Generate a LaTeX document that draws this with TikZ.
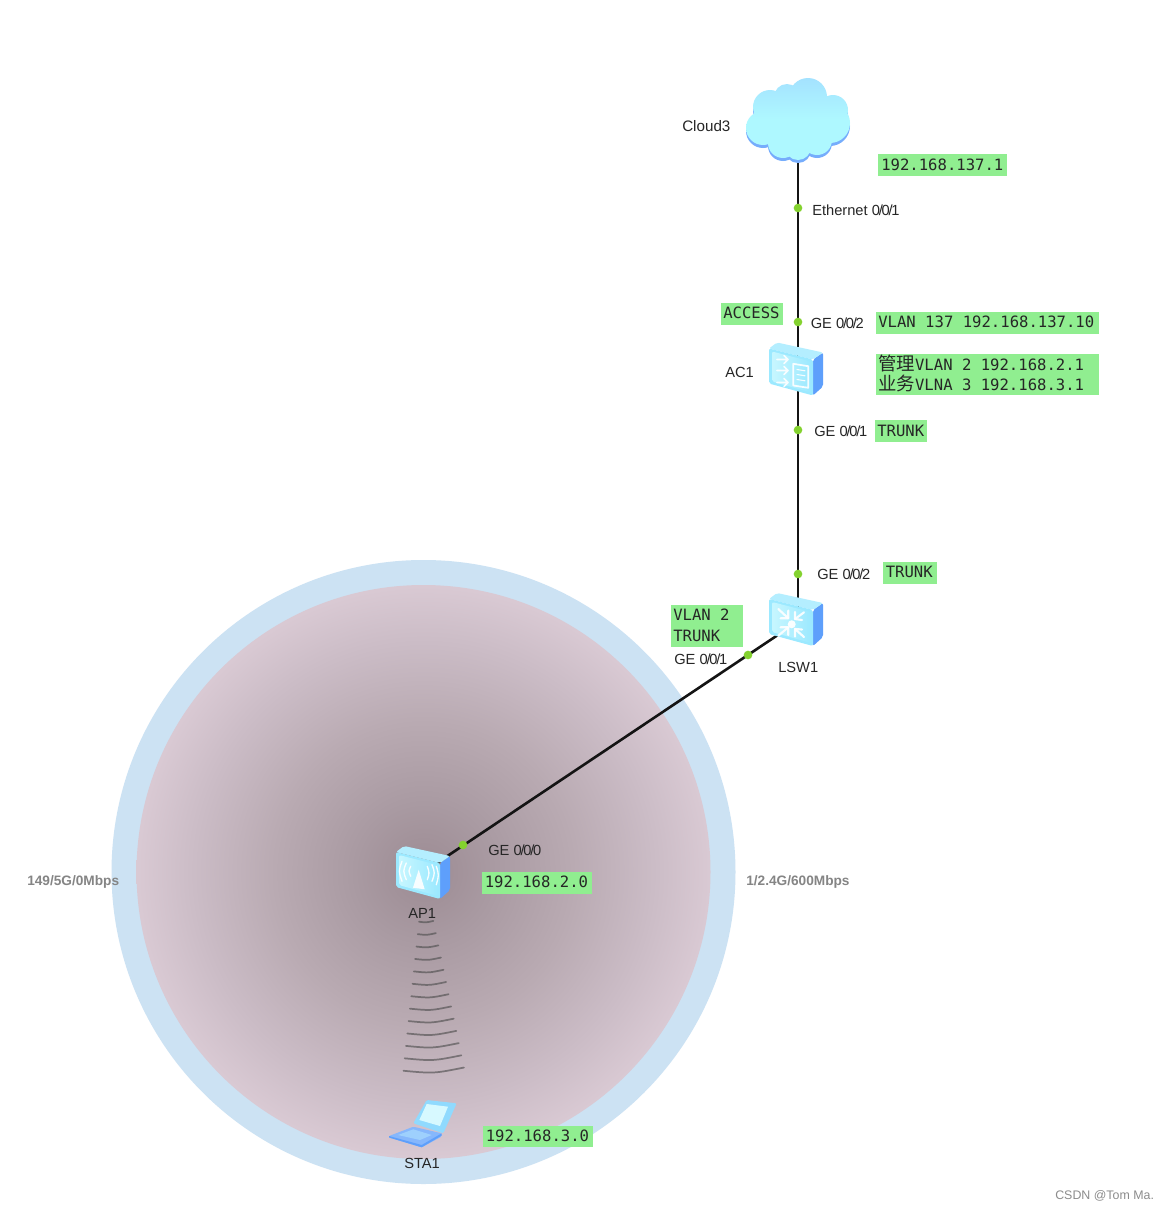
\documentclass[tikz,border=0pt]{standalone}
\usepackage{fontspec}
\setmainfont{Liberation Sans}
\setmonofont{DejaVu Sans Mono}
\newfontfamily\cjkf{Noto Sans CJK SC}
\definecolor{c0}{HTML}{9C8B93}
\definecolor{c1}{HTML}{A99AA2}
\definecolor{c2}{HTML}{B9AAB2}
\definecolor{c3}{HTML}{CBBCC6}
\definecolor{c4}{HTML}{DCCCD6}
\pgfdeclareradialshading{wifibg}{\pgfpoint{0bp}{0bp}}{
  color(0bp)=(c0); color(6bp)=(c1); color(13bp)=(c2); color(20bp)=(c3); color(26bp)=(c4); color(60bp)=(c4)}
\definecolor{ringblue}{HTML}{CCE2F3}
\definecolor{tagg}{HTML}{90EE90}
\definecolor{portg}{HTML}{84D22F}
\definecolor{icnA}{HTML}{9CE9FF}
\definecolor{icnB}{HTML}{BDF5FF}
\definecolor{icnT}{HTML}{B4EEFF}
\definecolor{icnS}{HTML}{5E9FFB}
\definecolor{cloudA}{HTML}{A4E2FF}
\definecolor{cloudB}{HTML}{AEF8FF}
\tikzset{
  lbl/.style={anchor=west,inner sep=0pt,font=\fontsize{11}{13}\selectfont,text=black!85},
  rate/.style={anchor=west,inner sep=0pt,font=\fontsize{10.25}{12}\selectfont\bfseries,text=black!48},
  wmk/.style={anchor=west,inner sep=0pt,font=\fontsize{9.3}{12}\selectfont,text=black!45},
  tagbox/.style={fill=tagg,draw=none,inner sep=0pt},
  tagtxt/.style={anchor=west,inner sep=0pt,align=left,font=\ttfamily\fontsize{11.7}{15}\selectfont,text=black!85},
  devbox/.style={inner sep=0pt,minimum size=30pt,draw=none},
  link/.style={draw=black!92,line width=1.95pt},
  portdot/.style={circle,fill=portg,draw=none,inner sep=0pt,minimum size=6.5pt},
  glyph/.style={draw=white,line width=1.3pt,line cap=round,line join=round,opacity=.9},
  wave/.style={draw=black!70,line width=1.3pt,line cap=round,opacity=.62}
}
\newcommand{\tsl}{\kern-.9pt/\kern-.9pt}
\newcommand{\cubebody}{
  \fill[icnS,rounded corners=1.5] (44,11) -- (54,4) -- (54,38) -- (44,47) -- cycle;
  \fill[icnT,rounded corners=1.5] (0,0) -- (8,-6) -- (54,4) -- (44,11) -- cycle;
  \fill[icnA,rounded corners=1.5] (0,0) -- (44,11) -- (44,47) -- (0,35) -- cycle;
  \shade[left color=icnB!85!white,right color=icnA,rounded corners=1.5] (3,3) -- (42,13) -- (42,44) -- (3,33) -- cycle;
}
\begin{document}
\begin{tikzpicture}[x=0.75pt,y=-0.75pt]
\useasboundingbox (0,0) rectangle (1168,1210);
\fill[white] (0,0) rectangle (1168,1210);
% radio coverage
\fill[ringblue] (423.5,872) circle (312);
\shade[shading=wifibg] (423.5,872) circle (287);
% device anchors
\node[devbox] (cloud) at (798,118) {};
\node[devbox] (ac) at (798,369) {};
\node[devbox] (lsw) at (798,621.5) {};
\node[devbox] (ap) at (423.5,872) {};
\node[devbox] (sta) at (423,1122) {};
% links
\draw[link] (cloud.center) -- (ac.center);
\draw[link] (ac.center) -- (lsw.center);
\draw[link] (lsw.center) -- (ap.center);
% wireless waves
\foreach \i in {0,...,12}{
  \pgfmathsetmacro{\yy}{921.7+\i*12.42}
  \pgfmathsetmacro{\xl}{419-\i*1.3}
  \pgfmathsetmacro{\xr}{433.3+\i*2.55}
  \pgfmathsetmacro{\xm}{(\xl+\xr)/2}
  \pgfmathsetmacro{\yc}{\yy+0.9+\i*.16}
  \pgfmathsetmacro{\ye}{\yy-0.8-\i*.2}
  \draw[wave] (\xl,\yy) .. controls (\xm,\yc) .. (\xr,\ye);
}
% cloud
\path[fill=icnS!85!white,shift={(0,3)}]
  (770,107) circle (17) (787,97) circle (13) (808,97) circle (19) (833,110) circle (15)
  (830,123) circle (20) (763,128) circle (17) (783,143) circle (15) (798,147) circle (13)
  (817,140) circle (15) (797,120) circle (30);
\shade[top color=cloudA,bottom color=cloudB,middle color=cloudB]
  (770,107) circle (17) (787,97) circle (13) (808,97) circle (19) (833,110) circle (15)
  (830,123) circle (20) (763,128) circle (17) (783,143) circle (15) (798,147) circle (13)
  (817,140) circle (15) (797,120) circle (30);
% AC1 icon
\begin{scope}[shift={(769,348.5)}]
  \cubebody
  \foreach \ya/\yb/\yc in {11/7/15,22/18/26,34/30/38}{
    \draw[glyph] (8,\ya) -- (19,\ya) (15,\yb) -- (19,\ya) -- (15,\yc);
  }
  \draw[glyph] (24.3,15.3) -- (39.3,17.7) -- (39.3,39.3) -- (24.3,37) -- cycle;
  \draw[glyph,line width=.8pt] (28,21) -- (36,22.3) (28,26) -- (36,27.3) (28,31) -- (36,32.3);
\end{scope}
% LSW1 icon
\begin{scope}[shift={(769,599)}]
  \cubebody
  \fill[white,opacity=.95] (22.7,25.3) circle (4);
  \draw[glyph,line width=1.6pt] (9.3,10) -- (19.3,19.3) (35,13.3) -- (26,20) (9.3,36.7) -- (19.3,28.3) (35,38) -- (26,30);
  \draw[glyph,line width=1.6pt] (11.5,19.3) -- (19.3,19.3) -- (19.3,11.5)
     (33,21) -- (26,20) -- (26,13) (11.5,28.3) -- (19.3,28.3) -- (19.3,36)
     (33,30.5) -- (26,30) -- (26,37.5);
\end{scope}
% AP1 icon
\begin{scope}[shift={(396,852)}]
  \cubebody
  \fill[white,opacity=.9] (22.7,17.7) -- (28.7,37.3) -- (17,35.7) -- cycle;
  \draw[glyph,line width=1pt] (14.7,14.3) .. controls (12.5,19) .. (14.7,24.3)
     (10.3,11) .. controls (7,19) .. (10.3,27.7)
     (6,9.3) .. controls (2.5,19) .. (6,29.3)
     (31.3,14.3) .. controls (33.5,21) .. (31.3,27.7)
     (36,12.7) .. controls (39,21) .. (36,29.3)
     (40.3,14.3) .. controls (43,23) .. (40.3,32.7);
\end{scope}
% STA1 icon
\fill[icnA!80!icnS,rounded corners=1] (426.7,1100) -- (456.7,1103.3) -- (443.3,1133.3) -- (413.3,1123.3) -- cycle;
\fill[icnB!60!white] (426.7,1104) -- (448,1106.7) -- (440,1126) -- (419.3,1120) -- cycle;
\fill[icnS!75!white,rounded corners=1] (389,1136) -- (413.3,1126.7) -- (441.7,1133.3) -- (441.7,1136.5) -- (421.7,1147.3) -- (389,1137.5) -- cycle;
\fill[icnS!60!white!70!icnA] (398,1135) -- (413.3,1129.3) -- (431.7,1135) -- (420,1140) -- cycle;
\fill[icnS] (389,1136) -- (421.7,1145) -- (441.7,1133.3) -- (441.7,1135.5) -- (421.7,1147.3) -- (389,1137.5) -- cycle;
% port dots
\node[portdot] (p1) at (798,208) {};
\node[portdot] (p2) at (798,322) {};
\node[portdot] (p3) at (798,430) {};
\node[portdot] (p4) at (798,574) {};
\node[portdot] (p5) at (748,655) {};
\node[portdot] (p6) at (463,845) {};
% device and port labels
\node[lbl,font=\fontsize{11.4}{13}\selectfont] (t1) at (682,126) {Cloud3};
\node[lbl] (t2) at (812,210) {Ethernet 0\tsl0\tsl1};
\node[lbl] (t3) at (810.5,323) {GE 0\tsl0\tsl2};
\node[lbl] (t4) at (725,372) {AC1};
\node[lbl] (t5) at (814,431) {GE 0\tsl0\tsl1};
\node[lbl] (t6) at (817,574) {GE 0\tsl0\tsl2};
\node[lbl] (t7) at (778,667) {LSW1};
\node[lbl] (t8) at (674,659) {GE 0\tsl0\tsl1};
\node[lbl] (t9) at (488,850) {GE 0\tsl0\tsl0};
\node[lbl] (t10) at (408,913) {AP1};
\node[lbl] (t11) at (404,1163) {STA1};
\node[rate] (r1) at (27,881.5) {149/5G/0Mbps};
\node[rate] (r2) at (746,881.5) {1/2.4G/600Mbps};
\node[wmk] (wm) at (1055,1196) {CSDN @Tom Ma.};
% green tags
\fill[tagbox] (878,154) rectangle (1007,176);
\node[tagtxt] (g1) at (881,164.5) {192.168.137.1};
\fill[tagbox] (720.5,303) rectangle (783,325);
\node[tagtxt] (g2) at (723,313) {ACCESS};
\fill[tagbox] (876,311.5) rectangle (1098.5,333.5);
\node[tagtxt] (g3) at (878,322) {VLAN 137 192.168.137.10};
\fill[tagbox] (876,354) rectangle (1098.5,395);
\node[tagtxt] (g4) at (878,363.5) {{\cjkf\fontsize{13.8}{15}\selectfont 管理}VLAN 2 192.168.2.1};
\node[tagtxt] (g5) at (878,383.5) {{\cjkf\fontsize{13.8}{15}\selectfont 业务}VLNA 3 192.168.3.1};
\fill[tagbox] (875,420) rectangle (927,442);
\node[tagtxt] (g6) at (877,430.5) {TRUNK};
\fill[tagbox] (883,562) rectangle (936.5,583.5);
\node[tagtxt] (g7) at (885.5,572) {TRUNK};
\fill[tagbox] (671,605) rectangle (743,646.5);
\node[tagtxt] (g8) at (673,615) {VLAN 2};
\node[tagtxt] (g9) at (673,635.5) {TRUNK};
\fill[tagbox] (482,872) rectangle (592,893.5);
\node[tagtxt] (g10) at (484.5,882) {192.168.2.0};
\fill[tagbox] (483,1126) rectangle (593,1147);
\node[tagtxt] (g11) at (485.5,1136) {192.168.3.0};
\end{tikzpicture}
\end{document}
